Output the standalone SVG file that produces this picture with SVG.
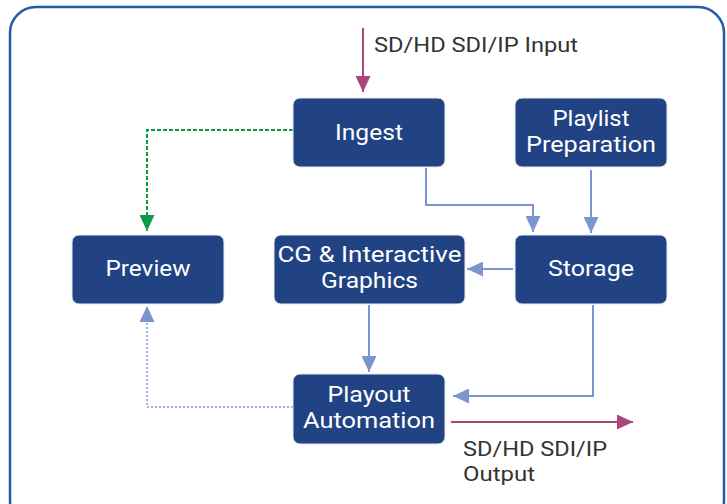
<svg xmlns="http://www.w3.org/2000/svg" width="727" height="504" viewBox="0 0 727 504">
<style>
.node rect{fill:#214383;stroke:#e6ebf5;stroke-width:1}
.node text{fill:#ffffff;font-family:Roboto,"Open Sans",sans-serif;font-size:22px;text-anchor:middle}
.lbl{fill:#333333;font-family:Roboto,"Open Sans",sans-serif;font-size:20.5px}
.blue{fill:none;stroke:#7b96cf;stroke-width:2}
.mag{fill:none;stroke:#a8457a;stroke-width:2}
</style>
<defs>
<marker id="ab" viewBox="0 0 10 10" refX="10" refY="5" markerWidth="16" markerHeight="15" preserveAspectRatio="none" markerUnits="userSpaceOnUse" orient="auto"><path d="M0,0 L10,5 L0,10 Z" fill="#7b96cf"/></marker>
<marker id="am" viewBox="0 0 10 10" refX="10" refY="5" markerWidth="16" markerHeight="15" preserveAspectRatio="none" markerUnits="userSpaceOnUse" orient="auto"><path d="M0,0 L10,5 L0,10 Z" fill="#a8457a"/></marker>
<marker id="ag" viewBox="0 0 10 10" refX="10" refY="5" markerWidth="16" markerHeight="15" preserveAspectRatio="none" markerUnits="userSpaceOnUse" orient="auto"><path d="M0,0 L10,5 L0,10 Z" fill="#0b9a47"/></marker>
</defs>
<rect x="0" y="0" width="727" height="504" fill="#ffffff"/>
<rect x="10" y="7" width="714" height="520" rx="26" ry="26" fill="#ffffff" stroke="#1f5ea6" stroke-width="2.5"/>
<g id="connectors">
<path class="mag" d="M363,28 V92" marker-end="url(#am)"/>
<path d="M293,130 H147 V231" fill="none" stroke="#0b9a47" stroke-width="2" stroke-dasharray="4,2" marker-end="url(#ag)"/>
<path class="blue" d="M426,168 V205 H533 V232" marker-end="url(#ab)"/>
<path class="blue" d="M591,170 V233" marker-end="url(#ab)"/>
<path class="blue" d="M513,269 H467" marker-end="url(#ab)"/>
<path class="blue" d="M369,305 V372" marker-end="url(#ab)"/>
<path class="blue" d="M593,305 V396 H453" marker-end="url(#ab)"/>
<path d="M293,407 H147 V306" fill="none" stroke="#7b96cf" stroke-width="1.5" stroke-dasharray="2,2" marker-end="url(#ab)"/>
<path class="mag" d="M451,422 H633" marker-end="url(#am)"/>
</g>
<text class="lbl" x="374" y="52" textLength="204" lengthAdjust="spacingAndGlyphs">SD/HD SDI/IP Input</text>
<text class="lbl" x="463" y="456" textLength="144" lengthAdjust="spacingAndGlyphs">SD/HD SDI/IP</text>
<text class="lbl" x="463" y="480.5" textLength="72" lengthAdjust="spacingAndGlyphs">Output</text>
<g id="ingest" class="node"><rect x="293" y="98" width="152" height="69" rx="7"/><text x="369" y="140" textLength="68" lengthAdjust="spacingAndGlyphs">Ingest</text></g>
<g id="playlist" class="node"><rect x="515" y="98" width="152" height="69" rx="7"/><text x="591" y="126" textLength="77" lengthAdjust="spacingAndGlyphs">Playlist</text><text x="591" y="152" textLength="130" lengthAdjust="spacingAndGlyphs">Preparation</text></g>
<g id="preview" class="node"><rect x="72" y="235" width="152" height="69" rx="7"/><text x="148" y="276" textLength="85" lengthAdjust="spacingAndGlyphs">Preview</text></g>
<g id="cg" class="node"><rect x="274" y="235" width="191" height="69" rx="7"/><text x="369.5" y="262" textLength="184" lengthAdjust="spacingAndGlyphs">CG &amp; Interactive</text><text x="369.5" y="288" textLength="97" lengthAdjust="spacingAndGlyphs">Graphics</text></g>
<g id="storage" class="node"><rect x="515" y="235" width="152" height="69" rx="7"/><text x="591" y="276" textLength="86" lengthAdjust="spacingAndGlyphs">Storage</text></g>
<g id="playout" class="node"><rect x="293" y="374" width="152" height="70" rx="7"/><text x="369" y="402" textLength="83" lengthAdjust="spacingAndGlyphs">Playout</text><text x="369" y="428" textLength="132" lengthAdjust="spacingAndGlyphs">Automation</text></g>
</svg>
